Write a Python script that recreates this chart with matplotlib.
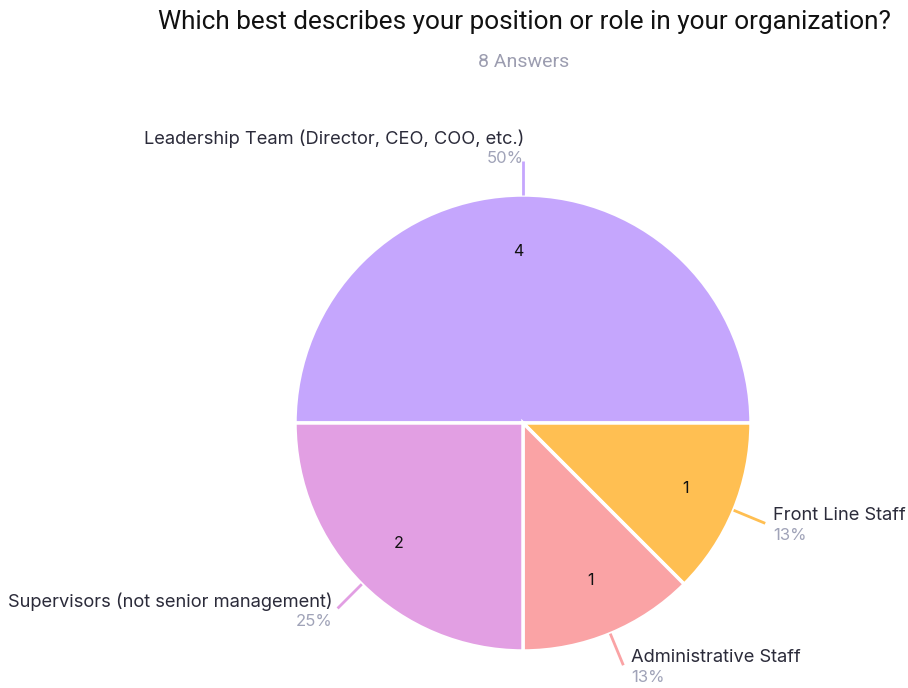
import numpy as np
import matplotlib.pyplot as plt

categories = [
    "Leadership Team (Director, CEO, COO, etc.)",
    "Front Line Staff",
    "Administrative Staff",
    "Supervisors (not senior management)",
]
counts = [4, 1, 1, 2]
percent_labels = ["50%", "13%", "13%", "25%"]
colors = ["#c5a6fd", "#ffbf52", "#faa3a5", "#e29fe3"]

W, H = 908, 688
fig = plt.figure(figsize=(W / 100, H / 100), dpi=100)

# pie area: centre (523, 423) px, radius 228 px
cx, cy, r = 523, 423, 228
ax = fig.add_axes([(cx - r) / W, (H - cy - r) / H, 2 * r / W, 2 * r / H])

wedges, texts = ax.pie(
    counts, colors=colors, startangle=180, counterclock=False, radius=1,
    wedgeprops=dict(edgecolor="white", linewidth=2.5),
)
ax.set_xlim(-1, 1)
ax.set_ylim(-1, 1)
ax.set_aspect("equal")
ax.axis("off")

total = sum(counts)
for w, n, name, pct, col in zip(wedges, counts, categories, percent_labels, colors):
    ang = np.deg2rad((w.theta1 + w.theta2) / 2)
    ca, sa = np.cos(ang), np.sin(ang)
    # count inside the slice
    ax.text(0.77 * ca - 0.02 * (abs(ca) < 0.1), 0.75 * sa, str(n),
            ha="center", va="center", fontsize=11.5, family="Inter",
            color="#111111")
    # leader line
    x0, y0 = ca, sa
    x1, y1 = 1.15 * ca, 1.15 * sa
    ax.plot([x0, x1], [y0, y1], color=col, lw=2, solid_capstyle="butt",
            clip_on=False)
    if abs(ca) < 0.1:
        ha, dx, dy_name, dy_pct = "right", 1, 22, 2
    elif ca > 0:
        ha, dx, dy_name, dy_pct = "left", 8, 8, -12
    else:
        ha, dx, dy_name, dy_pct = "right", -5, 7, -13
    ax.annotate(name, (x1, y1), xytext=(dx, dy_name), textcoords="offset pixels",
                ha=ha, va="center", fontsize=13.2, family="Inter",
                color="#2b2b3a", annotation_clip=False)
    ax.annotate(pct, (x1, y1), xytext=(dx, dy_pct), textcoords="offset pixels",
                ha=ha, va="center", fontsize=12, family="Inter",
                color="#a0a3b8", annotation_clip=False)

fig.text(524 / W, 1 - 22 / H, "Which best describes your position or role in your organization?",
         ha="center", va="center", fontsize=18.8, family="Roboto", color="#111111")
fig.text(524 / W, 1 - 62 / H, f"{total} Answers",
         ha="center", va="center", fontsize=14, family="Roboto", color="#9c9db0")

fig.savefig("out.png", dpi=100, facecolor="white")
